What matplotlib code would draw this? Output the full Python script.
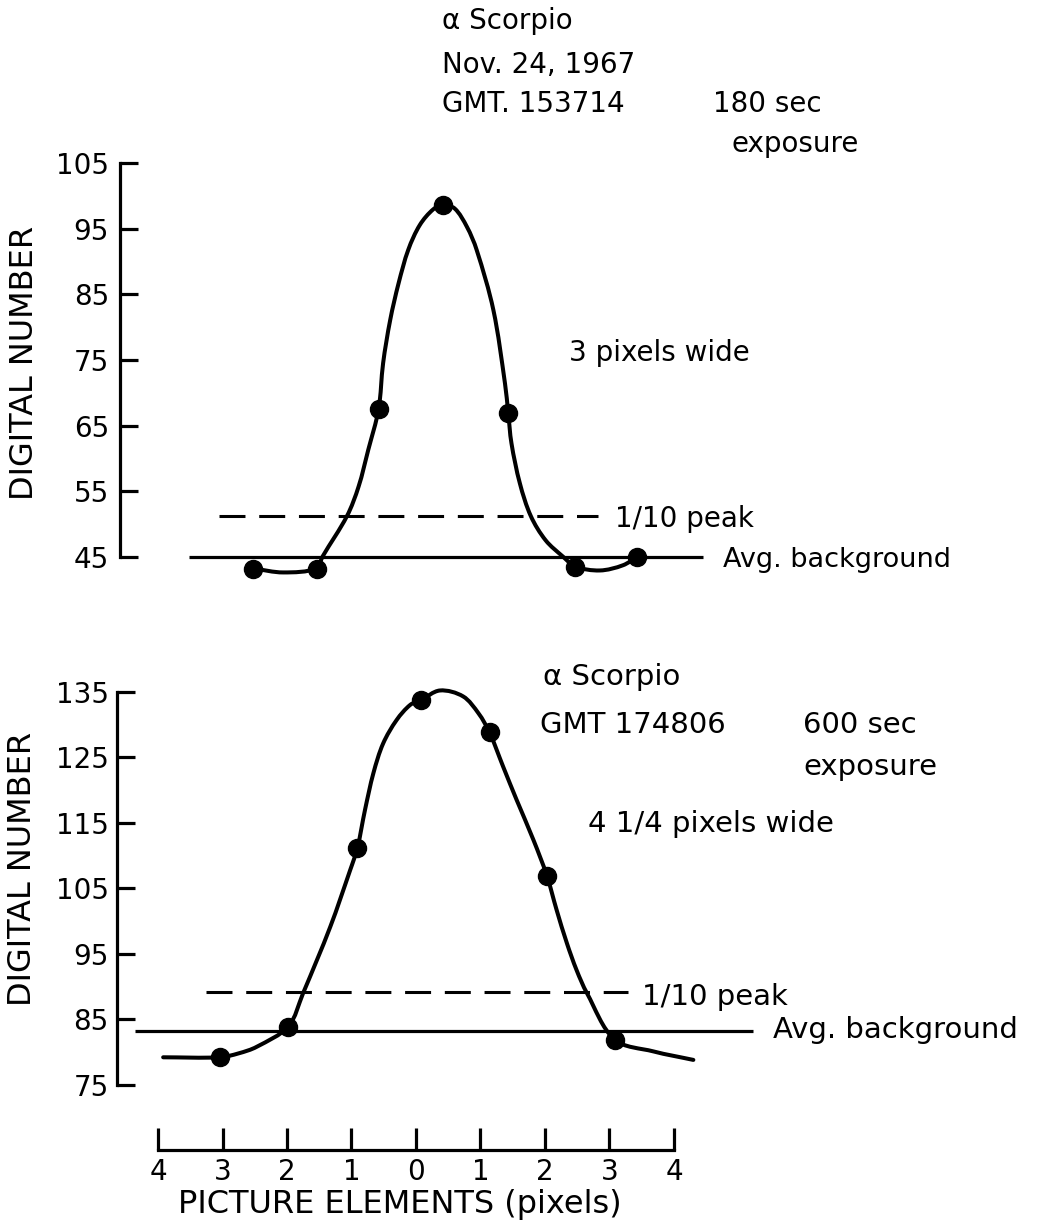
import numpy as np
import matplotlib.pyplot as plt
from matplotlib.path import Path
from matplotlib.patches import PathPatch

W, H = 1044, 1222

# measured samples: picture elements (pixels) vs digital number
top_x = [-2.52, -1.54, -0.58, 0.42, 1.43, 2.47, 3.43]
top_y = [43.2, 43.2, 67.5, 98.6, 66.9, 43.5, 45.0]
bot_x = [-3.04, -1.98, -0.91, 0.07, 1.14, 2.03, 3.08]
bot_y = [79.2, 83.9, 111.1, 133.7, 128.8, 106.9, 81.9]

# hand drawn profile curves
top_curve_x = [-2.52, -2.06, -1.54, -1.45, -1.07, -0.89, -0.74, -0.58,
               -0.51, -0.40, -0.27, -0.12, 0.06, 0.27, 0.42, 0.60, 0.79, 0.94,
               1.20, 1.38, 1.43, 1.48, 1.61, 1.78, 2.01, 2.28,
               2.47, 2.85, 3.21, 3.43]
top_curve_y = [43.2, 42.6, 43.2, 45.0, 51.2, 55.7, 61.3, 67.5,
               74.5, 81.1, 86.7, 91.8, 95.6, 98.0, 98.6, 98.1, 95.3, 91.8,
               82.6, 71.4, 66.9, 62.3, 56.2, 51.2, 47.5, 45.0,
               43.5, 42.9, 43.7, 45.0]
bot_curve_x = [-3.92, -3.04, -2.75, -2.47, -1.98, -1.75, -1.33,
               -1.02, -0.91, -0.79, -0.66, -0.51, -0.30, -0.09, 0.07, 0.37,
               0.73, 0.97, 1.14, 1.35, 1.56, 1.82, 2.03, 2.18, 2.34, 2.49,
               2.65, 3.08, 3.68, 4.30]
bot_curve_y = [79.2, 79.2, 79.8, 80.8, 83.9, 89.0, 99.1,
               107.8, 111.1, 117.0, 122.6, 127.1, 130.7, 133.0, 133.7, 135.2,
               134.3, 131.7, 128.8, 123.6, 118.5, 112.4, 106.9, 101.7, 96.6, 92.5,
               89.0, 81.9, 80.1, 78.8]

# reference levels
top_bg, top_tenth = 45.0, 51.2
bot_bg, bot_tenth = 83.2, 89.1
top_bg_span, top_tenth_span = (-3.52, 4.45), (-3.05, 2.82)
bot_bg_span, bot_tenth_span = (-4.36, 5.23), (-3.25, 3.29)

top_yticks = [45, 55, 65, 75, 85, 95, 105]
bot_yticks = [75, 85, 95, 105, 115, 125, 135]
x_ticks = [-4, -3, -2, -1, 0, 1, 2, 3, 4]
x_ticklabels = ["4", "3", "2", "1", "0", "1", "2", "3", "4"]

plt.rcParams["font.family"] = "DejaVu Sans"

X0, XS = 416.0, 64.5   # pixel of x = 0, pixels per picture element


def add_panel(fig, left_px, y_ref, py_ref, ys, ylo, yhi):
    top_px = py_ref - ys * (yhi - y_ref)
    bot_px = py_ref + ys * (y_ref - ylo)
    ax = fig.add_axes([left_px / W, 1 - bot_px / H,
                       (W - left_px) / W, (bot_px - top_px) / H])
    ax.set_xlim((left_px - X0) / XS, (W - X0) / XS)
    ax.set_ylim(ylo, yhi)
    ax.patch.set_visible(False)
    for s in ["top", "right"]:
        ax.spines[s].set_visible(False)
    ax.spines["left"].set_linewidth(2.3)
    ax.tick_params(axis="y", direction="in", length=13, width=2.3,
                   labelsize=20, pad=8)
    return ax, ys


def smooth_path(xs, ys, sx, sy):
    # chord-length Hermite tangents turned into cubic Bezier pieces (pixel space)
    p = np.column_stack([np.asarray(xs) * sx, np.asarray(ys) * sy])
    n = len(p)
    d = np.sqrt(((p[1:] - p[:-1]) ** 2).sum(axis=1))
    t = np.concatenate([[0], np.cumsum(d)])
    m = np.zeros_like(p)
    m[0] = (p[1] - p[0]) / (t[1] - t[0])
    m[-1] = (p[-1] - p[-2]) / (t[-1] - t[-2])
    for i in range(1, n - 1):
        m[i] = (p[i + 1] - p[i - 1]) / (t[i + 1] - t[i - 1])
    verts, codes = [p[0]], [Path.MOVETO]
    for i in range(n - 1):
        h = t[i + 1] - t[i]
        verts += [p[i] + m[i] * h / 3, p[i + 1] - m[i + 1] * h / 3, p[i + 1]]
        codes += [Path.CURVE4] * 3
    v = np.array(verts)
    v[:, 0] /= sx
    v[:, 1] /= sy
    return Path(v, codes)


def draw_profile(ax, ys, px, py, cx, cy, bg, bg_span, tenth, tenth_span):
    ax.plot(bg_span, [bg, bg], color="black", lw=2.3, solid_capstyle="butt")
    ax.plot(tenth_span, [tenth, tenth], color="black", lw=2.2,
            dashes=(8.5, 4.5), solid_capstyle="butt")
    path = smooth_path(cx, cy, XS, ys)
    ax.add_patch(PathPatch(path, fill=False, lw=2.9, edgecolor="black",
                           capstyle="round", joinstyle="round", clip_on=False))
    ax.plot(px, py, "o", color="black", markersize=13, clip_on=False, zorder=5)


def ftext(x, y, s, size, ha="left", **kw):
    fig.text(x / W, 1 - y / H, s, fontsize=size, ha=ha, va="baseline", **kw)


fig = plt.figure(figsize=(W / 100, H / 100), dpi=100)

# top panel
ax1, ys1 = add_panel(fig, 120, 45, 556.7, 6.557, 40, 107)
ax1.spines["bottom"].set_visible(False)
ax1.spines["left"].set_bounds(45, 105)
ax1.set_xticks([])
ax1.set_yticks(top_yticks)
draw_profile(ax1, ys1, top_x, top_y, top_curve_x, top_curve_y,
             top_bg, top_bg_span, top_tenth, top_tenth_span)

# bottom panel
ax2, ys2 = add_panel(fig, 117, 85, 1019.3, 6.55, 74, 137)
ax2.spines["left"].set_bounds(75, 135)
ax2.set_yticks(bot_yticks)
ax2.tick_params(axis="y", pad=6)
ax2.spines["bottom"].set_position(("outward", 42.2))
ax2.spines["bottom"].set_bounds(-4, 4)
ax2.spines["bottom"].set_linewidth(2.3)
ax2.set_xticks(x_ticks)
ax2.set_xticklabels(x_ticklabels)
ax2.tick_params(axis="x", direction="in", length=15.8, width=2.3,
                labelsize=20, pad=6)
draw_profile(ax2, ys2, bot_x, bot_y, bot_curve_x, bot_curve_y,
             bot_bg, bot_bg_span, bot_tenth, bot_tenth_span)

# axis titles
fig.text(25 / W, 1 - 362.5 / H, "DIGITAL NUMBER", rotation=90,
         ha="center", va="center", fontsize=23)
fig.text(23 / W, 1 - 869 / H, "DIGITAL NUMBER", rotation=90,
         ha="center", va="center", fontsize=23)
ftext(400, 1213.5, "PICTURE ELEMENTS (pixels)", 23, ha="center")

# top annotations
ftext(441.7, 29.3, "\u03b1 Scorpio", 20)
ftext(441.7, 72.7, "Nov. 24, 1967", 20)
ftext(441.7, 111.7, "GMT. 153714", 20)
ftext(713, 111.7, "180 sec", 20)
ftext(731.7, 151.7, "exposure", 20)
ftext(569.3, 361, "3 pixels wide", 20)
ftext(615, 526.7, "1/10 peak", 20)
ftext(722.7, 566.7, "Avg. background", 19.5)

# bottom annotations
ftext(543, 685, "\u03b1 Scorpio", 21)
ftext(540, 733.3, "GMT 174806", 21)
ftext(803, 733.3, "600 sec", 21)
ftext(803, 775, "exposure", 21)
ftext(588, 831.7, "4 1/4 pixels wide", 21)
ftext(641.7, 1005, "1/10 peak", 21)
ftext(773.3, 1038.3, "Avg. background", 21)

fig.savefig("out.png", dpi=100)
